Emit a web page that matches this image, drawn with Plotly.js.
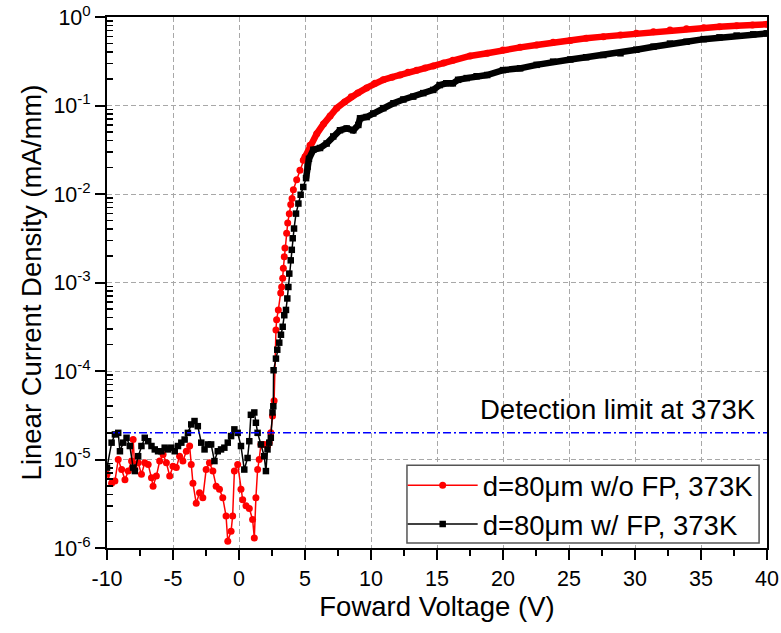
<!DOCTYPE html>
<html>
<head>
<meta charset="utf-8">
<script src="https://cdn.plot.ly/plotly-3.0.1.min.js"></script>
<style>html,body{margin:0;padding:0;background:#fff;}</style>
</head>
<body>
<div id="chart" style="width:781px;height:633px;"></div>
<script>
// ---- Data ----
var redName = 'd=80\u03bcm w/o FP, 373K';
var blackName = 'd=80\u03bcm w/ FP, 373K';

var redX = [-10,-9.65,-9.40,-9.15,-8.89,-8.64,-8.39,-8.14,-8.02,-7.89,-7.64,-7.39,-7.14,-6.88,-6.63,-6.51,-6.26,-6.01,-5.75,-5.50,
  -5.25,-5.00,-4.75,-4.50,-4.25,-3.99,-3.74,-3.62,-3.49,-3.24,-2.99,-2.74,-2.49,-2.24,-1.98,-1.73,-1.48,-1.23,-0.98,-0.85,
  -0.60,-0.48,-0.35,-0.10,0.15,0.28,0.53,0.78,1.03,1.16,1.28,1.41,1.53,1.66,1.91,2.16,2.29,2.41,2.54,2.66,
  2.80,2.85,2.98,3.16,3.23,3.31,3.36,3.43,3.48,3.61,3.69,3.81,3.92,4.02,4.12,4.37,4.62,
  4.87,5.0,5.38,5.89,6.4,6.9,7.4,8.0,8.5,9.0,9.67,10.3,10.93,11.6,12.2,12.8,13.46,14.1,14.72,15.5,16.2,17.5,18.8,20,
  21.3,22.55,23.8,25.1,26.3,27.6,28.9,30.1,31.4,32.65,33.9,35.2,36.4,37.7,38.9,40];
var redY = [6.8e-6,5.4e-6,5.7e-6,1.0e-5,7.7e-6,5.9e-6,7.4e-6,9.6e-6,1.68e-5,7.7e-6,9.2e-6,6.8e-6,9.2e-6,8.8e-6,6.2e-6,5.0e-6,6.5e-6,9.6e-6,1.14e-5,9.2e-6,
  6.5e-6,8.4e-6,8.1e-6,1.09e-5,9.6e-6,1.24e-5,1.42e-5,8.8e-6,5.4e-6,3.2e-6,4.2e-6,3.7e-6,7.7e-6,9.2e-6,7.4e-6,5.0e-6,4.6e-6,3.7e-6,2.3e-6,1.19e-6,
  1.55e-6,2.3e-6,7.4e-6,8.8e-6,4.6e-6,3.5e-6,3.0e-6,2.8e-6,2.1e-6,1.3e-6,3.7e-6,7.7e-6,1.0e-5,1.48e-5,1.48e-5,1.42e-5,1.55e-5,2.0e-5,3.1e-5,4.6e-5,
  2.9e-4,3.8e-4,4.9e-4,7.6e-4,8.9e-4,1.12e-3,1.45e-3,1.95e-3,2.45e-3,3.6e-3,4.7e-3,6.0e-3,7.6e-3,8.9e-3,1.12e-2,1.45e-2,1.86e-2,
  0.024,0.0263,0.0355,0.0479,0.0617,0.0759,0.0933,0.1096,0.1259,0.138,0.158,0.178,0.195,0.209,0.221,0.237,0.251,0.266,0.279,0.302,0.324,0.363,0.389,0.424,
  0.454,0.483,0.518,0.541,0.574,0.600,0.627,0.655,0.682,0.713,0.735,0.757,0.778,0.798,0.813,0.826];

var blackX = [-10,-9.65,-9.40,-9.15,-9.02,-8.77,-8.52,-8.27,-8.02,-7.89,-7.64,-7.39,-7.14,-6.88,-6.63,-6.38,-6.13,-5.88,-5.63,-5.38,
  -5.13,-4.87,-4.62,-4.37,-4.12,-3.87,-3.62,-3.37,-3.12,-2.86,-2.61,-2.36,-2.11,-1.86,-1.61,-1.36,-1.11,-0.85,-0.60,-0.35,
  -0.10,0.15,0.40,0.65,0.78,0.90,1.16,1.28,1.41,1.66,1.91,2.04,2.16,2.29,2.41,2.54,
  2.60,2.62,2.80,2.90,3.05,3.18,3.31,3.43,3.56,3.66,3.74,3.81,3.92,4.00,4.07,4.17,4.32,4.50,4.67,4.87,
  5.08,5.2,5.3,5.63,6.14,6.64,7.14,7.65,8.16,8.66,9.04,9.17,9.67,10.17,10.93,11.7,12.45,13.2,13.96,14.72,
  15.2,15.7,16.2,16.6,17.25,18.0,18.8,20.0,21.3,22.55,23.8,25.1,26.3,27.6,28.9,30.1,31.4,32.65,33.9,35.2,36.4,37.7,38.96,40];
var blackY = [8.1e-6,1.55e-5,1.92e-5,2.0e-5,1.24e-5,1.55e-5,1.76e-5,1.42e-5,8.1e-6,7.4e-6,1.09e-5,1.42e-5,1.76e-5,1.61e-5,1.42e-5,1.30e-5,1.24e-5,1.24e-5,1.36e-5,1.30e-5,
  1.36e-5,1.24e-5,1.42e-5,1.55e-5,1.68e-5,2.0e-5,2.49e-5,2.72e-5,2.38e-5,1.55e-5,1.30e-5,1.48e-5,1.48e-5,9.6e-6,1.24e-5,1.30e-5,1.36e-5,1.55e-5,1.84e-5,2.19e-5,
  2.0e-5,1.42e-5,7.7e-6,1.04e-5,1.61e-5,3.2e-5,3.4e-5,2.6e-5,2.0e-5,1.48e-5,1.09e-5,7.4e-6,1.30e-5,1.55e-5,1.76e-5,3.4e-5,
  4.0e-5,1.02e-4,1.38e-4,1.74e-4,2.09e-4,2.57e-4,3.16e-4,4.27e-4,4.9e-4,6.6e-4,8.9e-4,1.26e-3,1.78e-3,2.34e-3,3.16e-3,4.07e-3,6.0e-3,7.8e-3,9.8e-3,1.20e-2,
  0.0151,0.0204,0.025,0.0316,0.0331,0.0372,0.0447,0.0525,0.055,0.0525,0.0603,0.0716,0.0741,0.0813,0.0933,0.106,0.117,0.126,0.138,0.150,
  0.170,0.178,0.178,0.195,0.204,0.214,0.221,0.251,0.263,0.288,0.313,0.331,0.351,0.372,0.389,0.427,0.462,0.501,0.525,0.562,0.589,0.617,0.637,0.653];

var limitX = [-10, 40];
var limitY = [2e-5, 2e-5];
var limitLabel = 'Detection limit at 373K';

var xTickVals = [-10, -5, 0, 5, 10, 15, 20, 25, 30, 35, 40];
var xTickText = ['-10', '-5', '0', '5', '10', '15', '20', '25', '30', '35', '40'];
var yTickVals = [1e-6, 1e-5, 1e-4, 1e-3, 1e-2, 1e-1, 1];
var yTickText = ['10<sup>-6</sup>','10<sup>-5</sup>','10<sup>-4</sup>','10<sup>-3</sup>','10<sup>-2</sup>','10<sup>-1</sup>','10<sup>0</sup>'];
var xTitle = 'Foward Voltage (V)';
var yTitle = 'Linear Current Density (mA/mm)';

// ---- Helpers (tick positions / splitting) ----
var FONT = 'Liberation Sans, Arial, sans-serif';
function split(xs, ys, lim) {
  var ox = [], oy = [];
  for (var i = 0; i < xs.length; i++) if (xs[i] >= lim) { ox.push(xs[i]); oy.push(ys[i]); }
  return {x: ox, y: oy};
}
var yMinor = [];
for (var e = -6; e < 0; e++) for (var m = 2; m <= 9; m++) yMinor.push(m * Math.pow(10, e));
var xMinor = [];
for (var k = 0; k < xTickVals.length - 1; k++) xMinor.push((xTickVals[k] + xTickVals[k + 1]) / 2);

var redHi = split(redX, redY, 4.8);
var blackHi = split(blackX, blackY, 5.0);

var traces = [
  {x: redX, y: redY, name: redName, type: 'scatter', mode: 'lines+markers',
   line: {color: '#ff0000', width: 1.5}, marker: {color: '#ff0000', symbol: 'circle', size: 7}},
  {x: redHi.x, y: redHi.y, type: 'scatter', mode: 'lines', showlegend: false, hoverinfo: 'skip',
   line: {color: '#ff0000', width: 6.5}},
  {x: blackX, y: blackY, name: blackName, type: 'scatter', mode: 'lines+markers',
   line: {color: '#000000', width: 1.5}, marker: {color: '#000000', symbol: 'square', size: 6.5}},
  {x: blackHi.x, y: blackHi.y, type: 'scatter', mode: 'lines', showlegend: false, hoverinfo: 'skip',
   line: {color: '#000000', width: 6.5}},
  {x: limitX, y: limitY, type: 'scatter', mode: 'lines', showlegend: false, hoverinfo: 'skip',
   line: {color: '#0000ff', width: 1.5, dash: '8px,3px,2px,3px'}}
];

var layout = {
  width: 781, height: 633,
  margin: {l: 107, r: 14, t: 17, b: 85, autoexpand: false},
  paper_bgcolor: '#ffffff', plot_bgcolor: '#ffffff',
  font: {family: FONT, color: '#000000'},
  showlegend: true,
  xaxis: {
    range: [-10, 40], autorange: false,
    tickmode: 'array', tickvals: xTickVals, ticktext: xTickText,
    ticks: 'outside', ticklen: 10, tickwidth: 2, tickcolor: '#000',
    showline: true, linewidth: 2, linecolor: '#000', mirror: true,
    showgrid: true, gridcolor: '#a8a8a8', gridwidth: 1, griddash: '5px,3px',
    zeroline: false,
    minor: {tickmode: 'array', tickvals: xMinor, ticks: 'outside', ticklen: 6, tickwidth: 2, tickcolor: '#000', showgrid: false},
    tickfont: {size: 21.5, family: FONT, color: '#000'},
    title: {text: xTitle, font: {size: 27.5, family: FONT, color: '#000'}, standoff: 6},
    automargin: false
  },
  yaxis: {
    type: 'log', range: [-6, 0], autorange: false,
    tickmode: 'array', tickvals: yTickVals, ticktext: yTickText,
    ticks: 'outside', ticklen: 10, tickwidth: 2, tickcolor: '#000',
    showline: true, linewidth: 2, linecolor: '#000', mirror: true,
    showgrid: true, gridcolor: '#a8a8a8', gridwidth: 1, griddash: '5px,3px',
    zeroline: false,
    minor: {tickmode: 'array', tickvals: yMinor, ticks: 'inside', ticklen: 6, tickwidth: 1.5, tickcolor: '#000', showgrid: false},
    tickfont: {size: 21.5, family: FONT, color: '#000'},
    title: {text: yTitle, font: {size: 27.5, family: FONT, color: '#000'}, standoff: 4},
    automargin: false
  },
  shapes: [{
    type: 'rect', xref: 'paper', yref: 'paper', x0: 0.4545, x1: 0.988, y0: 0.0094, y1: 0.156,
    line: {color: '#555555', width: 1.5}, fillcolor: '#ffffff', layer: 'above'
  }],
  legend: {
    x: 0.448, y: 0.081, xanchor: 'left', yanchor: 'middle',
    bgcolor: 'rgba(0,0,0,0)', borderwidth: 0,
    font: {size: 27.5, family: FONT, color: '#000'},
    itemwidth: 70, tracegroupgap: 0
  },
  annotations: [{
    text: limitLabel, xref: 'paper', yref: 'paper', x: 0.987, y: 0.26,
    xanchor: 'right', yanchor: 'middle', showarrow: false,
    font: {size: 27.5, family: FONT, color: '#000'}
  }]
};

Plotly.newPlot('chart', traces, layout, {displayModeBar: false, staticPlot: true});
</script>
</body>
</html>
